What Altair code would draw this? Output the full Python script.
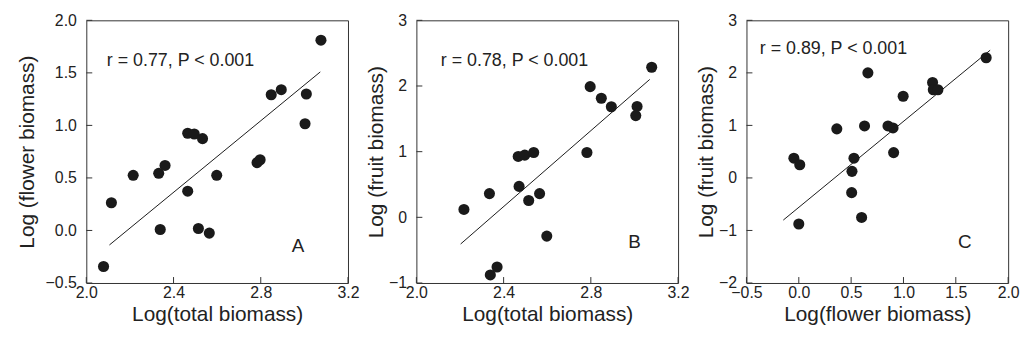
import altair as alt
import pandas as pd

FONT = "Liberation Sans"
INK = "#1a1a1a"

# ---- Panel A: Log(total biomass) vs Log(flower biomass)
a_x = [2.079, 2.115, 2.215, 2.332, 2.361, 2.339, 2.465, 2.465, 2.495, 2.533,
       2.514, 2.564, 2.598, 2.783, 2.797, 2.848, 2.894, 3.009, 3.003, 3.076]
a_y = [-0.343, 0.264, 0.525, 0.544, 0.619, 0.009, 0.374, 0.925, 0.918, 0.874,
       0.019, -0.025, 0.525, 0.645, 0.673, 1.292, 1.340, 1.299, 1.016, 1.811]
a_line_x = [2.106, 3.073]
a_line_y = [-0.138, 1.509]

# ---- Panel B: Log(total biomass) vs Log(fruit biomass)
b_x = [2.218, 2.335, 2.339, 2.370, 2.467, 2.497, 2.538, 2.471, 2.515, 2.565,
       2.598, 2.782, 2.797, 2.848, 2.894, 3.012, 3.006, 3.079]
b_y = [0.12, 0.361, -0.877, -0.757, 0.927, 0.947, 0.987, 0.471, 0.256, 0.361,
       -0.286, 0.987, 1.99, 1.814, 1.684, 1.689, 1.549, 2.286]
b_line_x = [2.203, 3.070]
b_line_y = [-0.406, 2.10]

# ---- Panel C: Log(flower biomass) vs Log(fruit biomass)
c_x = [-0.047, 0.009, 0.0, 0.363, 0.505, 0.508, 0.527, 0.600, 0.628, 0.660,
       0.852, 0.900, 0.906, 0.997, 1.278, 1.285, 1.329, 1.790]
c_y = [0.376, 0.251, -0.877, 0.934, -0.28, 0.125, 0.376, -0.752, 0.99, 2.0,
       0.99, 0.952, 0.482, 1.554, 1.817, 1.679, 1.679, 2.287]
c_line_x = [-0.148, 1.828]
c_line_y = [-0.802, 2.431]

# axis ticks / labels
x_ticks_total = [2.0, 2.4, 2.8, 3.2]
x_ticks_flower = [-0.5, 0.0, 0.5, 1.0, 1.5, 2.0]
y_ticks_flower = [-0.5, 0.0, 0.5, 1.0, 1.5, 2.0]
y_ticks_fruit_b = [-1, 0, 1, 2, 3]
y_ticks_fruit_c = [-2, -1, 0, 1, 2, 3]

stat_texts = ["r = 0.77, P < 0.001", "r = 0.78, P < 0.001", "r = 0.89, P < 0.001"]
stat_pos = [(2.094, 1.566), (2.112, 2.306), (-0.373, 2.364)]
letters = ["A", "B", "C"]
letter_pos = [(2.971, -0.205), (3.0, -0.461), (1.587, -1.326)]

W, H = 264, 265


def panel(px, py, lx, ly, xdom, ydom, xticks, yticks, xfmt, yfmt,
          xtitle, ytitle, yext, ytpad, stat, spos, letter, lpos):
    xs = alt.Scale(domain=xdom, nice=False, zero=False)
    ys = alt.Scale(domain=ydom, nice=False, zero=False)
    xaxis = alt.Axis(values=xticks, format=xfmt, title=xtitle)
    yaxis = alt.Axis(values=yticks, format=yfmt, title=ytitle,
                     minExtent=yext, maxExtent=yext, titlePadding=ytpad)
    X = lambda: alt.X("x:Q", scale=xs, axis=xaxis)
    Y = lambda: alt.Y("y:Q", scale=ys, axis=yaxis)

    pts = alt.Chart(pd.DataFrame({"x": px, "y": py})).mark_circle(
        size=125, opacity=1, color=INK).encode(x=X(), y=Y())
    line = alt.Chart(pd.DataFrame({"x": lx, "y": ly})).mark_line(
        color=INK, strokeWidth=1).encode(x=X(), y=Y())
    xt = alt.Chart(pd.DataFrame({"x": xticks})).mark_rule(
        color="#333", strokeWidth=1).encode(x=X(), y=alt.value(H), y2=alt.value(H - 6))
    yt = alt.Chart(pd.DataFrame({"y": yticks})).mark_rule(
        color="#333", strokeWidth=1).encode(y=Y(), x=alt.value(0), x2=alt.value(6))
    st = alt.Chart(pd.DataFrame({"x": [spos[0]], "y": [spos[1]], "t": [stat]})).mark_text(
        align="left", baseline="alphabetic", font=FONT, fontSize=18, color="#222").encode(
        x=X(), y=Y(), text="t:N")
    lt = alt.Chart(pd.DataFrame({"x": [lpos[0]], "y": [lpos[1]], "t": [letter]})).mark_text(
        align="center", baseline="alphabetic", font=FONT, fontSize=19, color="#222").encode(
        x=X(), y=Y(), text="t:N")
    return alt.layer(line, xt, yt, pts, st, lt).properties(width=W, height=H)


pA = panel(a_x, a_y, a_line_x, a_line_y, [2.0, 3.2], [-0.5, 2.0],
           x_ticks_total, y_ticks_flower, ".1f", ".1f",
           "Log(total biomass)", "Log (flower biomass)", 40, 9,
           stat_texts[0], stat_pos[0], letters[0], letter_pos[0])
pB = panel(b_x, b_y, b_line_x, b_line_y, [2.0, 3.2], [-1, 3],
           x_ticks_total, y_ticks_fruit_b, ".1f", "d",
           "Log(total biomass)", "Log (fruit biomass)", 20, 10,
           stat_texts[1], stat_pos[1], letters[1], letter_pos[1])
pC = panel(c_x, c_y, c_line_x, c_line_y, [-0.5, 2.0], [-2, 3],
           x_ticks_flower, y_ticks_fruit_c, ".1f", "d",
           "Log(flower biomass)", "Log (fruit biomass)", 20, 10,
           stat_texts[2], stat_pos[2], letters[2], letter_pos[2])

chart = alt.hconcat(pA, pB, pC, spacing=69, bounds="flush").properties(
    padding={"left": 8, "top": 2, "right": 5, "bottom": 5},
    background="white",
).configure_view(
    stroke="#333", strokeWidth=1
).configure_axis(
    domain=False, ticks=False, tickSize=0, grid=False,
    labelFont=FONT, labelFontSize=16, labelColor="#222",
    titleFont=FONT, titleFontSize=21, titleFontWeight="normal", titleColor="#222",
    labelFlush=False, labelOverlap=False,
).configure_axisX(
    labelPadding=2, minExtent=18, maxExtent=18, titlePadding=3
).configure_axisY(
    labelPadding=10
)

chart.save("out.html", embed_options={"renderer": "svg", "actions": False})
